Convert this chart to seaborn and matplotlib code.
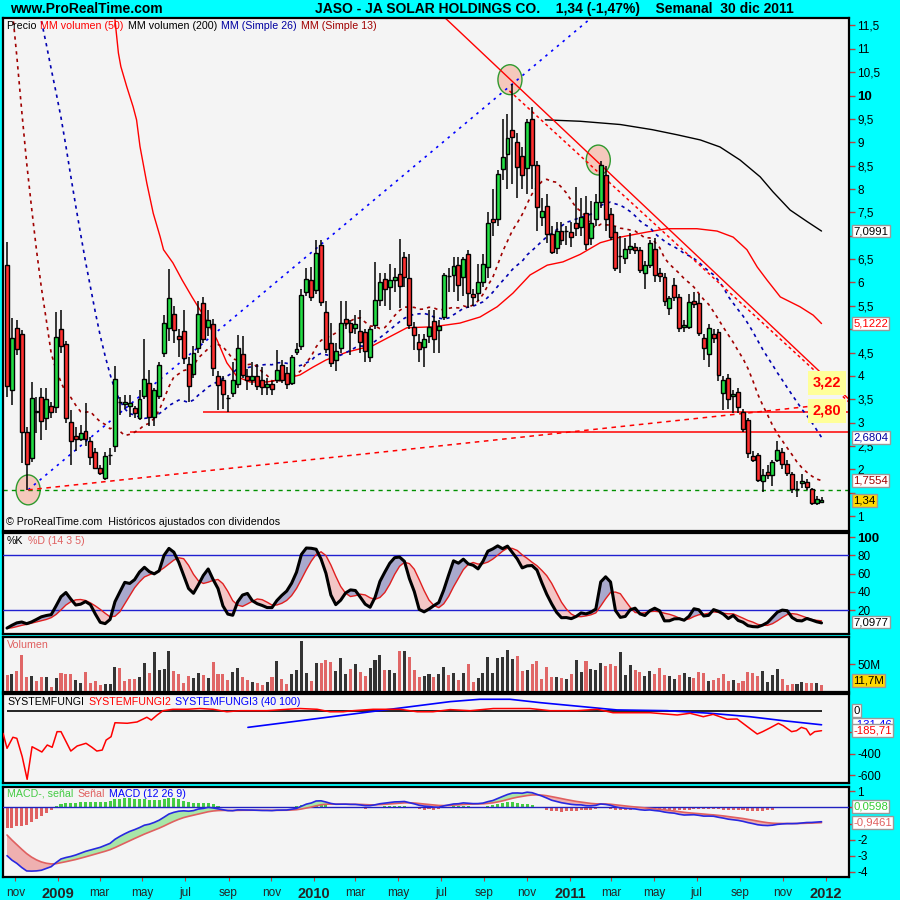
import numpy as np
import pandas as pd
import matplotlib
matplotlib.use("Agg")
import matplotlib.pyplot as plt
import matplotlib.transforms as mtransforms
from matplotlib.patches import Ellipse
import seaborn as sns

sns.set_style("white")
plt.rcParams['font.family'] = ['Liberation Sans', 'DejaVu Sans']

# ---------------- data ----------------
FIRST_WEEK = pd.Timestamp("2008-10-20")

# weekly closes before the visible window (seed for the moving averages / oscillators)
prior_close = [19, 20, 18.5, 17.5, 16.5, 15.5, 17, 16.5, 17, 18, 18.5, 19, 19.5, 19, 18.5,
               18, 16.5, 16, 15, 13.5, 12.5, 12.5, 9.5, 8, 6.2]

open_ = [6.37, 3.70, 5.03, 4.90, 2.80, 2.24, 3.24, 3.55, 3.10, 3.36,
         3.33, 5.00, 4.68, 3.01, 2.71, 2.65, 2.82, 2.61, 2.37, 2.03,
         1.81, 2.30, 2.50, 3.45, 3.40, 3.36, 3.31, 3.09, 3.57, 3.84,
         3.13, 3.56, 4.50, 5.02, 5.32, 4.85, 4.96, 4.25, 4.03, 4.59,
         5.55, 5.05, 5.11, 4.00, 3.91, 3.53, 3.64, 3.83, 4.46, 4.00,
         3.91, 4.00, 3.91, 3.77, 3.83, 3.91, 4.23, 4.06, 3.85, 4.51,
         4.64, 5.80, 6.05, 5.84, 6.80, 5.37, 4.70, 4.34, 4.60, 5.22,
         5.13, 5.03, 4.96, 4.94, 4.40, 5.09, 5.63, 6.07, 5.90, 6.05,
         6.18, 6.55, 6.10, 5.05, 4.73, 4.62, 4.85, 5.17, 4.98, 5.26,
         6.14, 6.16, 6.37, 6.12, 6.61, 5.75, 5.78, 6.01, 6.33, 7.36,
         7.36, 8.43, 8.75, 9.27, 9.01, 8.71, 8.45, 9.50, 8.52, 7.40,
         7.64, 7.04, 6.74, 7.10, 7.10, 7.08, 7.27, 7.19, 7.49, 6.95,
         7.36, 7.72, 8.30, 7.47, 7.08, 6.57, 6.52, 6.72, 6.76, 6.70,
         6.20, 6.37, 6.72, 6.20, 6.12, 5.45, 5.95, 5.69, 5.05, 5.05,
         5.60, 5.56, 4.81, 4.47, 4.90, 4.94, 3.63, 3.96, 3.57, 3.66,
         3.23, 3.06, 2.28, 2.31, 1.75, 1.94, 1.88, 2.20, 2.37, 2.11,
         1.90, 1.58, 1.70, 1.73, 1.58, 1.28, 1.30]
high = [6.87, 5.24, 5.20, 4.98, 2.90, 3.87, 3.55, 3.74, 3.74, 3.44,
        5.37, 5.41, 4.75, 3.27, 2.90, 2.95, 3.42, 2.70, 2.46, 2.10,
        2.37, 2.45, 4.21, 3.55, 3.60, 3.60, 3.35, 3.70, 4.80, 4.13,
        3.75, 4.30, 5.30, 6.28, 5.50, 5.00, 5.40, 4.40, 4.65, 5.60,
        5.69, 5.40, 5.22, 4.10, 4.00, 3.60, 4.30, 4.88, 4.85, 4.15,
        4.30, 4.25, 4.20, 3.95, 3.90, 4.55, 4.35, 4.20, 4.45, 4.70,
        5.85, 6.30, 6.33, 6.91, 6.91, 5.60, 5.13, 4.70, 5.60, 5.60,
        5.20, 5.30, 5.40, 5.00, 5.05, 6.44, 6.20, 6.20, 6.40, 6.30,
        6.93, 6.65, 6.60, 5.15, 4.90, 4.90, 5.40, 5.40, 5.20, 6.20,
        6.30, 6.55, 6.55, 6.55, 6.70, 5.85, 6.40, 6.60, 7.50, 8.00,
        8.40, 9.50, 9.60, 10.25, 9.20, 8.90, 9.50, 9.75, 8.60, 7.80,
        7.90, 7.20, 7.30, 7.30, 7.20, 7.30, 8.04, 7.80, 7.85, 7.75,
        7.90, 8.60, 8.50, 7.60, 7.20, 7.00, 6.95, 7.05, 6.85, 6.75,
        6.45, 6.90, 6.95, 6.30, 6.20, 5.70, 6.10, 5.75, 5.20, 5.75,
        5.80, 5.75, 4.90, 5.10, 5.00, 5.00, 4.00, 4.05, 3.70, 3.75,
        3.30, 3.10, 2.40, 2.35, 2.00, 2.10, 2.20, 2.60, 2.45, 2.20,
        1.95, 1.75, 1.90, 1.80, 1.60, 1.42, 1.40]
low = [3.55, 3.38, 4.45, 2.13, 1.56, 2.16, 2.78, 2.63, 2.84, 3.10,
       3.20, 4.50, 3.00, 2.09, 2.40, 2.60, 2.50, 2.09, 2.00, 1.88,
       1.77, 2.10, 2.37, 3.16, 3.30, 3.13, 3.10, 3.05, 3.50, 2.92,
       2.92, 3.50, 4.40, 4.75, 4.70, 4.40, 4.25, 3.44, 3.95, 4.50,
       4.70, 4.85, 4.00, 3.27, 3.30, 3.23, 3.55, 3.75, 3.95, 3.70,
       3.80, 3.70, 3.60, 3.60, 3.60, 3.85, 3.85, 3.72, 3.80, 4.45,
       4.55, 5.70, 5.60, 5.75, 5.50, 4.50, 4.19, 4.10, 4.50, 5.00,
       4.45, 4.90, 4.50, 4.30, 4.30, 5.00, 5.50, 5.50, 5.40, 5.80,
       5.45, 5.90, 5.00, 4.55, 4.30, 4.19, 4.70, 4.50, 4.50, 5.20,
       5.80, 5.80, 5.60, 5.70, 5.45, 5.50, 5.60, 5.90, 6.10, 7.00,
       7.20, 8.20, 8.00, 8.10, 7.80, 8.00, 7.90, 8.00, 7.10, 7.20,
       6.85, 6.60, 6.60, 6.80, 6.80, 6.75, 7.00, 7.00, 6.70, 6.80,
       7.20, 7.60, 7.10, 6.90, 6.25, 6.20, 6.40, 6.60, 6.60, 6.20,
       5.85, 6.30, 6.00, 6.00, 5.50, 5.30, 5.60, 4.95, 4.95, 5.00,
       5.45, 4.85, 4.35, 4.20, 4.70, 3.90, 3.28, 3.30, 3.20, 3.20,
       2.80, 2.25, 2.15, 1.72, 1.52, 1.80, 1.65, 2.15, 2.00, 1.85,
       1.50, 1.41, 1.60, 1.55, 1.24, 1.24, 1.28]
close = [3.78, 4.81, 4.58, 2.80, 2.11, 3.53, 3.23, 3.03, 3.51, 3.23,
         4.83, 4.64, 3.10, 2.61, 2.65, 2.78, 2.65, 2.26, 2.03, 1.92,
         2.28, 2.30, 3.93, 3.45, 3.44, 3.43, 3.20, 3.50, 3.93, 3.11,
         3.70, 4.23, 5.13, 5.66, 4.98, 4.80, 4.38, 3.78, 4.48, 5.32,
         4.80, 5.20, 4.16, 3.80, 3.61, 3.53, 3.91, 4.59, 4.02, 3.91,
         4.00, 3.78, 3.77, 3.83, 3.71, 4.13, 3.91, 3.83, 4.40, 4.58,
         5.73, 6.08, 5.69, 6.63, 5.58, 4.58, 4.28, 4.53, 5.13, 5.13,
         4.94, 5.11, 4.73, 4.53, 5.00, 5.63, 6.01, 5.86, 6.05, 6.12,
         5.93, 6.12, 5.09, 4.88, 4.58, 4.79, 5.05, 4.79, 5.07, 6.16,
         6.14, 6.35, 5.95, 6.50, 5.78, 5.69, 6.01, 6.40, 7.27, 7.30,
         8.32, 8.69, 9.09, 9.12, 8.47, 8.30, 9.44, 8.52, 7.62, 7.53,
         7.04, 6.65, 7.10, 6.91, 7.10, 6.97, 7.17, 7.40, 6.82, 7.27,
         7.72, 8.52, 7.36, 6.97, 6.31, 6.57, 6.72, 6.78, 6.70, 6.27,
         6.37, 6.85, 6.16, 6.14, 5.60, 5.67, 5.69, 5.03, 5.09, 5.58,
         5.54, 4.92, 4.60, 5.03, 4.81, 4.02, 3.91, 3.51, 3.61, 3.33,
         2.86, 2.35, 2.20, 1.77, 1.88, 1.88, 2.16, 2.41, 2.11, 1.92,
         1.58, 1.58, 1.75, 1.62, 1.28, 1.36, 1.34]
volume_m = [29.6, 31.5, 37.0, 66.6, 26.5, 27.8, 18.5, 26.5, 25.9, 8.0,
            24.0, 33.3, 31.5, 31.5, 20.4, 14.8, 35.2, 14.8, 18.5, 11.1,
            13.6, 13.0, 44.4, 42.6, 18.5, 22.2, 22.2, 26.5, 51.8, 33.3,
            72.2, 38.9, 40.7, 74.0, 37.6, 31.5, 14.8, 27.8, 24.0, 33.3,
            29.6, 24.0, 53.7, 31.5, 31.5, 20.4, 35.2, 42.6, 25.9, 20.4,
            16.7, 14.8, 11.1, 16.7, 25.9, 55.5, 22.2, 13.0, 31.5, 38.9,
            92.6, 33.3, 18.5, 51.8, 51.8, 57.4, 53.7, 37.0, 61.7, 31.5,
            40.1, 50.0, 35.2, 27.8, 42.6, 57.4, 66.6, 38.9, 38.9, 33.3,
            74.0, 74.0, 63.0, 38.9, 25.9, 27.8, 31.5, 25.9, 31.5, 44.4,
            30.0, 32.7, 20.4, 32.7, 50.0, 16.7, 24.0, 32.7, 63.0, 32.7,
            61.0, 63.0, 75.9, 59.2, 64.8, 37.0, 38.9, 50.0, 55.5, 22.2,
            44.4, 25.9, 25.9, 24.0, 22.2, 31.5, 57.4, 35.2, 55.5, 40.7,
            38.9, 51.8, 46.3, 50.0, 46.3, 72.2, 29.6, 48.1, 38.9, 35.2,
            27.8, 37.0, 31.5, 42.6, 29.6, 27.8, 22.2, 29.6, 33.3, 25.9,
            24.0, 35.2, 33.3, 18.5, 20.4, 24.0, 31.5, 18.5, 20.4, 14.8,
            18.5, 35.2, 33.3, 27.8, 37.0, 16.7, 29.6, 40.7, 22.2, 11.1,
            13.0, 13.0, 16.7, 14.8, 14.8, 14.8, 11.7]

# "MM volumen" curves (bar index, price-scale value)
mmvol50_idx = [22.0, 22.7, 23.2, 24.4, 25.7, 26.4, 27.1, 28.5, 29.8, 31.2, 31.9, 33.8,
               35.7, 37.7, 40.0, 42.8, 44.8, 46.9, 49.5, 53.0, 57.1, 59.7, 62.4, 65.0,
               69.3, 74.6, 81.5, 86.8, 92.3, 96.4, 99.9, 103.1, 106.6, 110.1, 113.3,
               116.8, 120.9, 125.0, 130.5, 134.5, 140.6, 144.7, 148.0, 150.8, 152.9,
               154.9, 157.6, 161.6, 164.3, 166.0]
mmvol50_val = [11.62, 10.91, 10.62, 10.19, 9.76, 9.48, 8.91, 8.12, 7.48, 6.98, 6.70, 6.42,
               6.05, 5.69, 5.30, 4.77, 4.28, 3.98, 3.87, 3.87, 3.95, 4.02, 4.19, 4.34,
               4.51, 4.65, 5.03, 5.05, 5.13, 5.26, 5.48, 5.77, 6.16, 6.37, 6.44,
               6.60, 6.85, 6.97, 7.08, 7.15, 7.15, 7.10, 6.97, 6.70, 6.33,
               6.05, 5.69, 5.48, 5.30, 5.12]
mmvol200_idx = [109.7, 116.8, 125.0, 131.5, 136.6, 141.3, 145.3, 149.4, 153.5, 156.1,
                159.6, 163.1, 166.0]
mmvol200_val = [9.48, 9.45, 9.38, 9.27, 9.16, 9.05, 8.90, 8.62, 8.26, 7.94,
                7.55, 7.30, 7.10]

# SYSTEMFUNGI indicator panel (bar index, value)
fungi2_idx = [-0.8, 0.0, 1.2, 2.0, 3.1, 4.1, 5.1, 6.1, 7.1, 8.2, 9.2, 10.2, 11.0, 12.2,
              13.0, 14.3, 16.1, 17.3, 18.3, 19.4, 20.2, 21.2, 22.0, 24.5, 26.5, 28.5,
              29.4, 30.6, 31.8, 33.8, 36.7, 39.3, 42.0, 44.8, 47.5, 53.0, 57.1, 59.7,
              63.2, 65.8, 68.5, 70.5, 74.6, 80.1, 83.6, 86.8, 90.3, 94.4, 99.1, 106.6,
              110.7, 116.2, 120.3, 123.5, 131.1, 136.6, 139.2, 141.9, 143.9, 146.8,
              148.8, 150.0, 151.8, 152.9, 154.0, 155.5, 157.2, 158.2, 159.9, 160.9,
              161.9, 162.9, 163.7, 164.6, 166.0]
fungi2_val = [-211, -350, -247, -257, -428, -638, -335, -359, -384, -319, -340, -195, -195, -303,
              -375, -328, -303, -340, -375, -366, -273, -242, -112, -117, -105, -61,
              -87, -40, 0, 13, 13, 20, 13, -10, 0, 0, 13, 20,
              13, -10, -10, 0, 13, 13, -10, -10, 10, 0, 20, 20,
              0, 0, 13, -19, -19, -40, -24, -56, -34, -80,
              -77, -118, -180, -217, -195, -160, -118, -140, -195, -186,
              -155, -170, -226, -195, -186]
fungi3_idx = [49.1, 90.3, 96.4, 102.5, 108.6, 117.4, 124.3, 134.5, 143.3, 151.4, 158.2, 166.0]
fungi3_val = [-155, 84, 106, 106, 75, 37, 7, 0, -24, -56, -93, -131]

# user drawn objects on the price chart (bar index, price)
trend_up_idx, trend_up_val = [4.3, 119.5], [1.56, 11.70]
support_idx, support_val = [4.3, 171.8], [1.56, 3.44]
down_solid_idx, down_solid_val = [89.3, 171.8], [11.66, 3.48]
down_dot_idx, down_dot_val = [102.4, 171.8], [10.10, 3.42]
hlines_val, hlines_start = [3.22, 2.80], [40.0, 25.1]
hline_green_val = 1.56
circles_idx, circles_val = [4.3, 102.5, 120.5], [1.56, 10.34, 8.62]
level_labels = ["3,22", "2,80"]
level_label_pos = [3.85, 3.25]

tick_dates = ["2008-11-01", "2009-01-01", "2009-03-01", "2009-05-01", "2009-07-01",
              "2009-09-01", "2009-11-01", "2010-01-01", "2010-03-01", "2010-05-01",
              "2010-07-01", "2010-09-01", "2010-11-01", "2011-01-01", "2011-03-01",
              "2011-05-01", "2011-07-01", "2011-09-01", "2011-11-01", "2012-01-01"]
tick_labels = ["nov", "2009", "mar", "may", "jul", "sep", "nov", "2010", "mar", "may",
               "jul", "sep", "nov", "2011", "mar", "may", "jul", "sep", "nov", "2012"]

price_ticks = [1, 2, 2.5, 3, 3.5, 4, 4.5, 5.5, 6, 6.5, 7.5, 8, 8.5, 9, 9.5, 10,
               10.5, 11, 11.5]
price_boxes = [("7,0991", 7.0991, "black", "white"), ("5,1222", 5.1222, "#ff0000", "white"),
               ("2,6804", 2.6804, "#0000a0", "white"), ("1,7554", 1.7554, "#a00000", "white"),
               ("1,34", 1.34, "black", "#ffd800")]

# ---------------- derived indicators ----------------
N = len(close)
idx = np.arange(N)
P = len(prior_close)
c_all = pd.Series(prior_close + close, dtype=float)
h_all = pd.Series(prior_close + high, dtype=float)
l_all = pd.Series(prior_close + low, dtype=float)

sma13 = c_all.rolling(13).mean().to_numpy()[P:]
sma26 = c_all.rolling(26).mean().to_numpy()[P:]

hh = h_all.rolling(14, min_periods=1).max()
ll = l_all.rolling(14, min_periods=1).min()
raw = 100 * (c_all - ll) / (hh - ll)
stoch_k = raw.rolling(3, min_periods=1).mean()
stoch_d = stoch_k.rolling(5, min_periods=1).mean()
stoch_k = stoch_k.to_numpy()[P:]
stoch_d = stoch_d.to_numpy()[P:]

ema12 = c_all.ewm(span=12, adjust=False).mean()
ema26 = c_all.ewm(span=26, adjust=False).mean()
macd = ema12 - ema26
signal = macd.ewm(span=9, adjust=False).mean()
macd = macd.to_numpy()[P:]
signal = signal.to_numpy()[P:]
hist = macd - signal

o = np.array(open_); c = np.array(close); h = np.array(high); l = np.array(low)
prev_c = np.concatenate([[prior_close[-1]], c[:-1]])
vol_up = c >= prev_c

# ---------------- figure ----------------
W = H = 900


def px_rect(x0, y0, x1, y1):
    return [x0 / W, 1 - y1 / H, (x1 - x0) / W, (y1 - y0) / H]


fig = plt.figure(figsize=(9, 9), dpi=100)
fig.patch.set_facecolor('#00ffff')

ax_p = fig.add_axes(px_rect(3, 18, 849, 531))
ax_s = fig.add_axes(px_rect(3, 533, 849, 634), sharex=ax_p)
ax_v = fig.add_axes(px_rect(3, 637, 849, 692), sharex=ax_p)
ax_f = fig.add_axes(px_rect(3, 694, 849, 783), sharex=ax_p)
ax_m = fig.add_axes(px_rect(3, 787, 849, 877), sharex=ax_p)
axes = [ax_p, ax_s, ax_v, ax_f, ax_m]


def sline(ax, x, y, color, lw, ls='-', z=5):
    n0 = len(ax.lines)
    sns.lineplot(x=np.asarray(x, float), y=np.asarray(y, float), ax=ax, color=color,
                 linewidth=lw, estimator=None, sort=False, legend=False)
    for ln in ax.lines[n0:]:
        ln.set_linestyle(ls)
        ln.set_zorder(z)
        ln.set_clip_on(True)


for ax in axes:
    ax.set_facecolor('#f4f4f4')
    for sp in ax.spines.values():
        sp.set_linewidth(1.6)
        sp.set_color('black')
        sp.set_visible(True)

# ---- price panel ----
ax = ax_p
for cx, cy in zip(circles_idx, circles_val):
    ax.add_patch(Ellipse((cx, cy), 4.9, 0.64, facecolor='#f5c8bc', edgecolor='#2f9a2f',
                         lw=1.0, zorder=2))
ax.axhline(hline_green_val, color='#009000', lw=1, ls=(0, (3, 3)), zorder=2)
for v, s in zip(hlines_val, hlines_start):
    ax.hlines(v, s, 175, color='#ff0000', lw=1.1, zorder=2)
sline(ax, mmvol50_idx, mmvol50_val, '#ff0000', 1.0, '-', 2)
sline(ax, mmvol200_idx, mmvol200_val, 'black', 1.0, '-', 2)
sline(ax, idx, sma26, '#0000b0', 1.2, (0, (2, 2.5)), 2)
sline(ax, idx, sma13, '#a00000', 1.2, (0, (2, 2.5)), 2)
sline(ax, trend_up_idx, trend_up_val, '#0000ff', 1.2, (0, (1.5, 3)), 2)
sline(ax, support_idx, support_val, '#ff0000', 1.1, (0, (3, 3)), 2)
sline(ax, down_solid_idx, down_solid_val, '#ff0000', 1.0, '-', 2)
sline(ax, down_dot_idx, down_dot_val, '#ff0000', 1.1, (0, (2, 2)), 2)

up = c >= o
ax.vlines(idx, l, h, color='black', lw=1.1, zorder=3)
ax.bar(idx, np.abs(c - o), bottom=np.minimum(o, c), width=0.8,
       color=np.where(up, '#22dd44', '#ff3030'), edgecolor='black', linewidth=1.0, zorder=4)

for txt, yv in zip(level_labels, level_label_pos):
    ax.text(167.1, yv, txt, ha='center', va='center', color='#ff0000', fontsize=10.5,
            fontweight='bold', zorder=6,
            bbox=dict(boxstyle='square,pad=0.35', fc='#ffff99', ec='none'))

ax.set_ylim(0.68, 11.66)
ax.set_yticks(price_ticks)
ax.set_yticklabels([("%g" % v).replace('.', ',') for v in price_ticks])

# ---- stochastic ----
ax = ax_s
ax.fill_between(idx, stoch_k, stoch_d, where=stoch_k >= stoch_d, interpolate=True,
                color='#a9a9cd', lw=0, zorder=2)
ax.fill_between(idx, stoch_k, stoch_d, where=stoch_k < stoch_d, interpolate=True,
                color='#f3c6c6', lw=0, zorder=2)
ax.axhline(80, color='#2020d0', lw=1, zorder=3)
ax.axhline(20, color='#2020d0', lw=1, zorder=3)
sline(ax, idx, stoch_d, '#e02020', 1.0, '-', 4)
sline(ax, idx, stoch_k, 'black', 2.2, '-', 5)
ax.set_ylim(-6, 104.4)
ax.set_yticks([20, 40, 60, 80, 100])
ax.set_yticklabels(["20", "40", "60", "80", "100"])

# ---- volume ----
ax = ax_v
ax.bar(idx, volume_m, width=0.62, color=np.where(vol_up, '#333333', '#e06666'),
       edgecolor='none', linewidth=0, zorder=3)
ax.set_ylim(-1.85, 100)
ax.set_yticks([50])
ax.set_yticklabels(["50M"])

# ---- systemfungi ----
ax = ax_f
ax.hlines(0, 0, N - 1, color='black', lw=1.2, zorder=3)
sline(ax, fungi3_idx, fungi3_val, '#0000ff', 1.2, '-', 4)
sline(ax, fungi2_idx, fungi2_val, '#ff0000', 1.1, '-', 5)
ax.set_ylim(-672, 155)
ax.set_yticks([-400, -600])
ax.set_yticklabels(["-400", "-600"])

# ---- MACD ----
ax = ax_m
ax.axhline(0, color='#2020c0', lw=1.0, zorder=3)
ax.bar(idx, hist, width=0.62, color=np.where(hist >= 0, '#44cc44', '#e06060'),
       edgecolor='none', linewidth=0, zorder=2)
ax.fill_between(idx, macd, signal, where=macd >= signal, interpolate=True,
                color='#a8e6a8', lw=0, zorder=3)
ax.fill_between(idx, macd, signal, where=macd < signal, interpolate=True,
                color='#efb0b0', lw=0, zorder=3)
sline(ax, idx, signal, '#e06060', 1.2, '-', 4)
sline(ax, idx, macd, '#2828e0', 1.2, '-', 5)
ax.set_ylim(-4.34, 1.28)
ax.set_yticks([1, -2, -3, -4])
ax.set_yticklabels(["1", "-2", "-3", "-4"])

# ---- shared x axis ----
first = FIRST_WEEK
tpos = [(pd.Timestamp(d) - first).days / 7.0 for d in tick_dates]
ax_p.set_xlim(-0.82, 171.6)
for ax in axes:
    ax.set_xlabel('')
    ax.set_ylabel('')
    ax.yaxis.tick_right()
    ax.tick_params(axis='y', which='both', direction='out', length=4, width=1,
                   color='#c04040', labelsize=8.5, pad=2, labelcolor='black', right=True,
                   left=False)
    ax.tick_params(axis='x', which='both', bottom=False, labelbottom=False)
ax_p.set_yticks([1.5, 5, 7], minor=True)
ax_m.set_yticks([0, -1], minor=True)
ax_f.set_yticks([-200], minor=True)
for ax in axes:
    ax.tick_params(axis='y', which='minor', length=4, width=1, color='#c04040')
ax_m.set_xticks(tpos)
ax_m.set_xticklabels(tick_labels)
ax_m.tick_params(axis='x', bottom=True, labelbottom=True, direction='out', length=3,
                 color='#c04040', labelsize=8.5, pad=4)
for lab in ax_m.get_xticklabels():
    if lab.get_text().isdigit():
        lab.set_fontweight('bold')
        lab.set_fontsize(10.5)
for lab in ax_p.get_yticklabels():
    if lab.get_text() == "10":
        lab.set_fontweight('bold')
        lab.set_fontsize(9.5)
for lab in ax_s.get_yticklabels():
    if lab.get_text() == "100":
        lab.set_fontweight('bold')
        lab.set_fontsize(9.5)


# ---- value boxes on the right ----
def vbox(ax, y, txt, color, fc, z=10):
    tr = mtransforms.blended_transform_factory(ax.transAxes, ax.transData)
    ax.text(1.005, y, txt, transform=tr, ha='left', va='center', fontsize=8.2, color=color,
            clip_on=False, zorder=z,
            bbox=dict(boxstyle='square,pad=0.12', fc=fc, ec='#9a9a9a', lw=1))


for txt, yv, col, fc in price_boxes:
    vbox(ax_p, yv, txt, col, fc)
vbox(ax_s, 7.0977, "7,0977", 'black', 'white')
vbox(ax_v, 20, "11,7M", 'black', '#ffd800')
vbox(ax_f, 0, "0", 'black', 'white')
vbox(ax_f, -131.46, "-131,46", '#0000ff', 'white', z=9)
vbox(ax_f, -185.71, "-185,71", '#ff0000', 'white', z=11)
vbox(ax_m, 0.0598, "0,0598", '#33cc33', 'white')
vbox(ax_m, -0.9461, "-0,9461", '#e06060', 'white')

# ---- texts ----
fig.canvas.draw()
renderer = fig.canvas.get_renderer()


def ftext(x, y, s, **kw):
    return fig.text(x / W, 1 - y / H, s, va='center', ha='left', **kw)


def chain(x, y, parts, fs, gap=4):
    for s, col in parts:
        t = ftext(x, y, s, fontsize=fs, color=col)
        bb = t.get_window_extent(renderer=renderer)
        x = x + bb.width + gap


ftext(10, 9, "www.ProRealTime.com", fontsize=10, fontweight='bold', color='black')
ftext(315, 9, "JASO - JA SOLAR HOLDINGS CO.    1,34 (-1,47%)    Semanal  30 dic 2011",
      fontsize=10, fontweight='bold', color='black')

fs = 7.7
chain(6, 26, [("Precio", 'black'), ("MM volumen (50)", '#ff0000'),
              ("MM volumen (200)", 'black'), ("MM (Simple 26)", '#0000a0'),
              ("MM (Simple 13)", '#a00000')], fs)
ftext(6, 522, "\u00a9 ProRealTime.com  Hist\u00f3ricos ajustados con dividendos", fontsize=fs,
      color='black')
chain(7, 541, [("%K", 'black'), ("%D (14 3 5)", '#e06060')], fs)
ftext(7, 645, "Volumen", fontsize=fs, color='#e06060')
chain(7, 702, [("SYSTEMFUNGI", 'black'), ("SYSTEMFUNGI2", '#ff0000'),
               ("SYSTEMFUNGI3 (40 100)", '#0000ff')], fs)
chain(7, 794, [("MACD-, se\u00f1al", '#44cc44'), ("Se\u00f1al", '#e06060'),
               ("MACD (12 26 9)", '#0000ff')], fs)

fig.savefig("out.png", dpi=100, facecolor=fig.get_facecolor())
